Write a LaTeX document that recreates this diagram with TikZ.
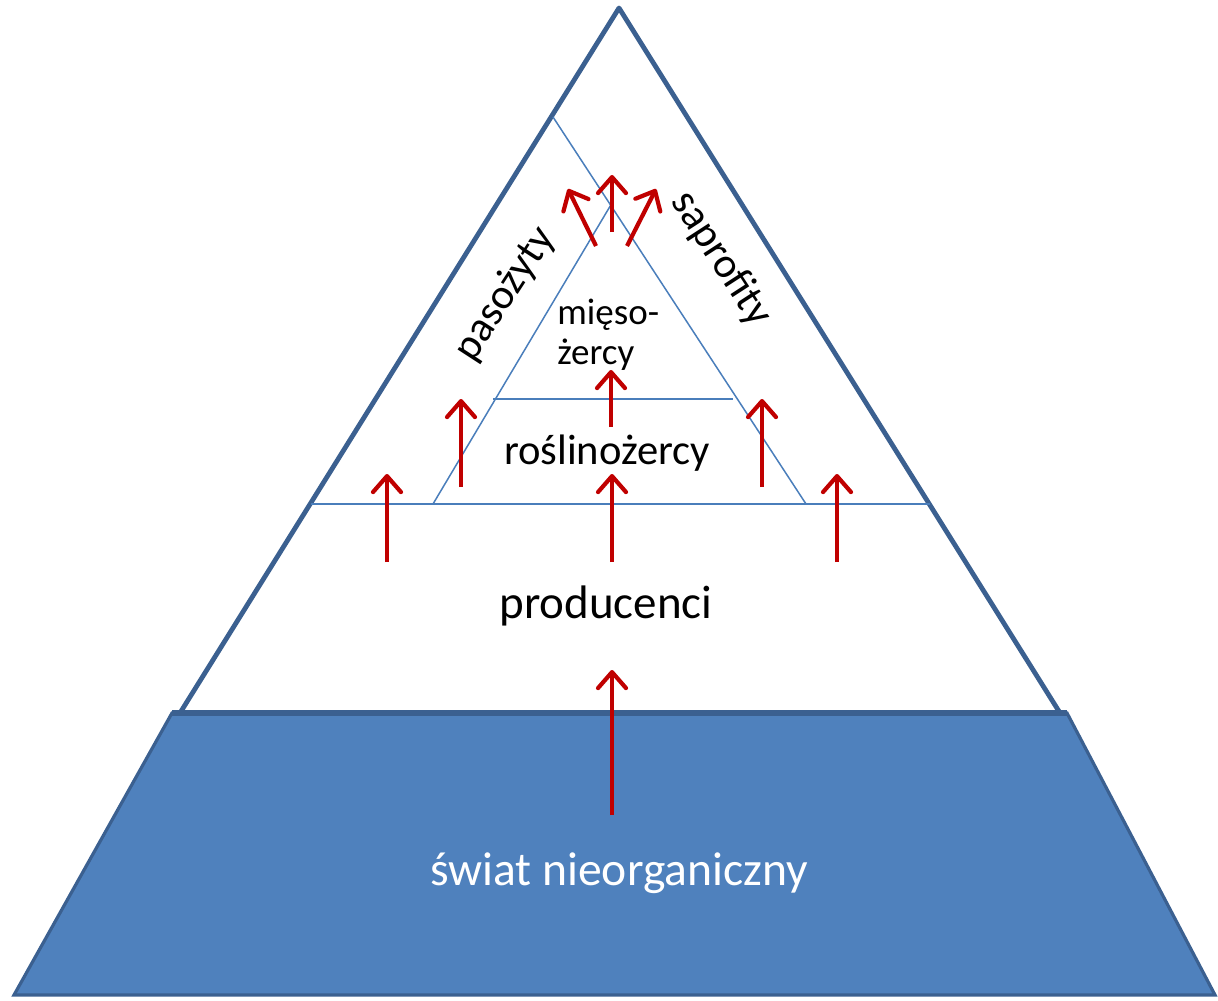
\documentclass[tikz,border=0pt]{standalone}
\usepackage{fontspec}
\setmainfont{Carlito}
\usetikzlibrary{arrows.meta}
\definecolor{outline}{HTML}{3B6090}
\definecolor{fillblue}{HTML}{4F81BD}
\definecolor{thinblue}{HTML}{4A7EBB}
\definecolor{arrred}{HTML}{C00000}
\tikzset{
  outer/.style={draw=outline,line width=2.4pt,line join=round},
  thin/.style={draw=thinblue,line width=0.75pt},
  redarr/.style={draw=arrred,line width=2.1pt,-{Straight Barb[length=8pt,width=14pt,line width=2.1pt,round]}},
  lbl/.style={inner sep=0pt,text=black},
}
\begin{document}
\begin{tikzpicture}[x=0.5pt,y=-0.5pt]
\useasboundingbox (0,0) rectangle (1218,1000);
% base trapezoid
\draw[fill=fillblue,draw=outline,line width=1.6pt,line join=miter] (172,713) -- (1067,713) -- (1215,995) -- (14,995) -- cycle;
% outer triangle
\draw[outer] (180,713) -- (619,8) -- (1060,713);
\draw[draw=outline,line width=3pt] (172,713) -- (1067,713);
% inner lines
\draw[thin] (311,504) -- (930,504);
\draw[thin] (433,504) -- (612,203);
\draw[thin] (553,117) -- (806,504);
\draw[thin] (493,399) -- (733,399);
% arrows
\draw[redarr] (612,815) -- (612,670);
\draw[redarr] (387,562) -- (387,474);
\draw[redarr] (612,562) -- (612,474);
\draw[redarr] (837,562) -- (837,474);
\draw[redarr] (461,487) -- (461,399);
\draw[redarr] (762,487) -- (762,399);
\draw[redarr] (611,427) -- (611,370);
\draw[redarr] (612,232) -- (612,175);
\draw[redarr] (596,246) -- (568,189);
\draw[redarr] (627,246) -- (656,189);
% labels
\node[lbl,font=\fontsize{23.5}{27}\selectfont] (prod) at (606,606) {producenci};
\node[lbl,font=\fontsize{21.3}{24}\selectfont] (rosl) at (607,453) {roślinożercy};
\node[lbl,font=\fontsize{18.5}{20}\selectfont,align=left,anchor=north west] (mies) at (557,299) {mięso-\\żercy};
\node[lbl,font=\fontsize{21.3}{24}\selectfont,rotate=57] (paso) at (505,294) {pasożyty};
\node[lbl,font=\fontsize{21.3}{24}\selectfont,rotate=-57] (sapr) at (721,259) {saprofity};
\node[lbl,font=\fontsize{23.8}{27}\selectfont,text=white] (swiat) at (619,873) {świat nieorganiczny};
\end{tikzpicture}
\end{document}
